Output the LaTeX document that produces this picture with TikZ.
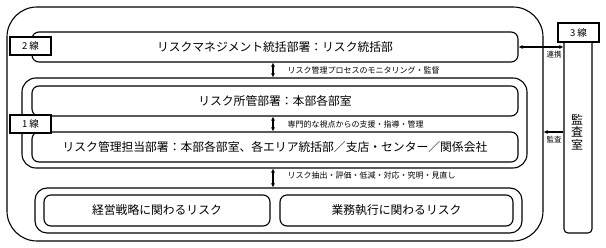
\documentclass[tikz,border=0pt]{standalone}
\usepackage{fontspec}
\setmainfont{Noto Sans CJK JP}
\usetikzlibrary{arrows.meta}

\tikzset{every picture/.style={line width=1.1pt}}
\tikzset{
  unitbox/.style={draw, rounded corners=7pt, minimum width=486pt, minimum height=30pt, inner sep=0pt, font=\fontsize{11.8}{14}\selectfont},
  groupbox/.style={draw, inner sep=0pt},
  linetag/.style={draw, fill=white, minimum width=41pt, minimum height=18pt, inner sep=0pt},
  tagtext/.style={inner sep=0pt, font=\fontsize{9.5}{11}\selectfont},
  note/.style={anchor=west, inner sep=0pt, font=\fontsize{8}{9}\selectfont},
  flow/.style={line width=1.2pt, {Latex[length=4pt,width=4pt]}-{Latex[length=4pt,width=4pt]}},
  oneway/.style={line width=1.2pt, -{Latex[length=4pt,width=4pt]}}
}

\begin{document}
\begin{tikzpicture}[x=1pt,y=1pt,yscale=-1,xscale=1]
\useasboundingbox (0,0) rectangle (606,248);

%Shape: Rounded Rect (whole company)
\node [groupbox, rounded corners=30pt, minimum width=536pt, minimum height=234pt] (outer) at (275,124) {};
%Shape: Rounded Rect (first line group)
\node [groupbox, rounded corners=14pt, minimum width=505pt, minimum height=90pt] (grpone) at (274.5,123) {};
%Shape: Rounded Rect (risk group)
\node [groupbox, rounded corners=12pt, minimum width=487pt, minimum height=45pt] (grprisk) at (278.5,210.5) {};

% Text Node
\node [unitbox] (mgmt) at (275,47) {リスクマネジメント統括部署：リスク統括部};
% Text Node
\node [unitbox] (shokan) at (275,101) {リスク所管部署：本部各部室};
% Text Node
\node [unitbox] (tanto) at (275,147) {リスク管理担当部署：本部各部室、各エリア統括部／支店・センター／関係会社};
% Text Node
\node [unitbox, minimum width=226pt, minimum height=31pt] (strat) at (157,210.5) {経営戦略に関わるリスク};
% Text Node
\node [unitbox, minimum width=233pt, minimum height=31pt] (exec) at (396.5,210.5) {業務執行に関わるリスク};

%Shape: Rectangle (line tags)
\node [linetag] (tagtwo) at (30.5,46) {};
\node [tagtext] (tagtwotxt) at (tagtwo.center) {2 線};
\node [linetag] (tagone) at (30.5,124) {};
\node [tagtext] (tagonetxt) at (tagone.center) {1 線};

%Shape: Rounded Rect (audit office)
\node [draw, rounded corners=4pt, minimum width=28pt, minimum height=195pt, inner sep=0pt] (audit) at (578,135.5) {};
\node [linetag, minimum height=19pt] (tagthree) at (578.5,32.5) {};
\node [tagtext] (tagthreetxt) at (tagthree.center) {3 線};
% Text Node
\node [align=center, inner sep=0pt, font=\fontsize{12}{12.5}\selectfont] (audittxt) at (577,132) {監\\査\\室};

%Straight Lines (between layers)
\coordinate (ax) at (273,0);
\draw [flow] (mgmt.south -| ax) -- (grpone.north -| ax);
\draw [flow] (shokan.south -| ax) -- (tanto.north -| ax);
\draw [flow] (grpone.south -| ax) -- (grprisk.north -| ax);

% Text Node
\node [note] (monitor) at (287,70) {リスク管理プロセスのモニタリング・監督};
% Text Node
\node [note] (support) at (287,124) {専門的な視点からの支援・指導・管理};
% Text Node
\node [note] (process) at (287,175.5) {リスク抽出・評価・低減・対応・究明・見直し};

%Straight Lines (audit office links)
\draw [flow] (mgmt.east) -- (mgmt.east -| audit.west);
\coordinate (auditpt) at (564,132);
\draw [oneway] (auditpt -| audit.west) -- (auditpt -| outer.east);

% Text Node
\node [inner sep=0pt, font=\fontsize{7.5}{9}\selectfont] (renkei) at (554,54.5) {連携};
% Text Node
\node [inner sep=0pt, font=\fontsize{7.5}{9}\selectfont] (kansa) at (554,140) {監査};

\end{tikzpicture}
\end{document}
